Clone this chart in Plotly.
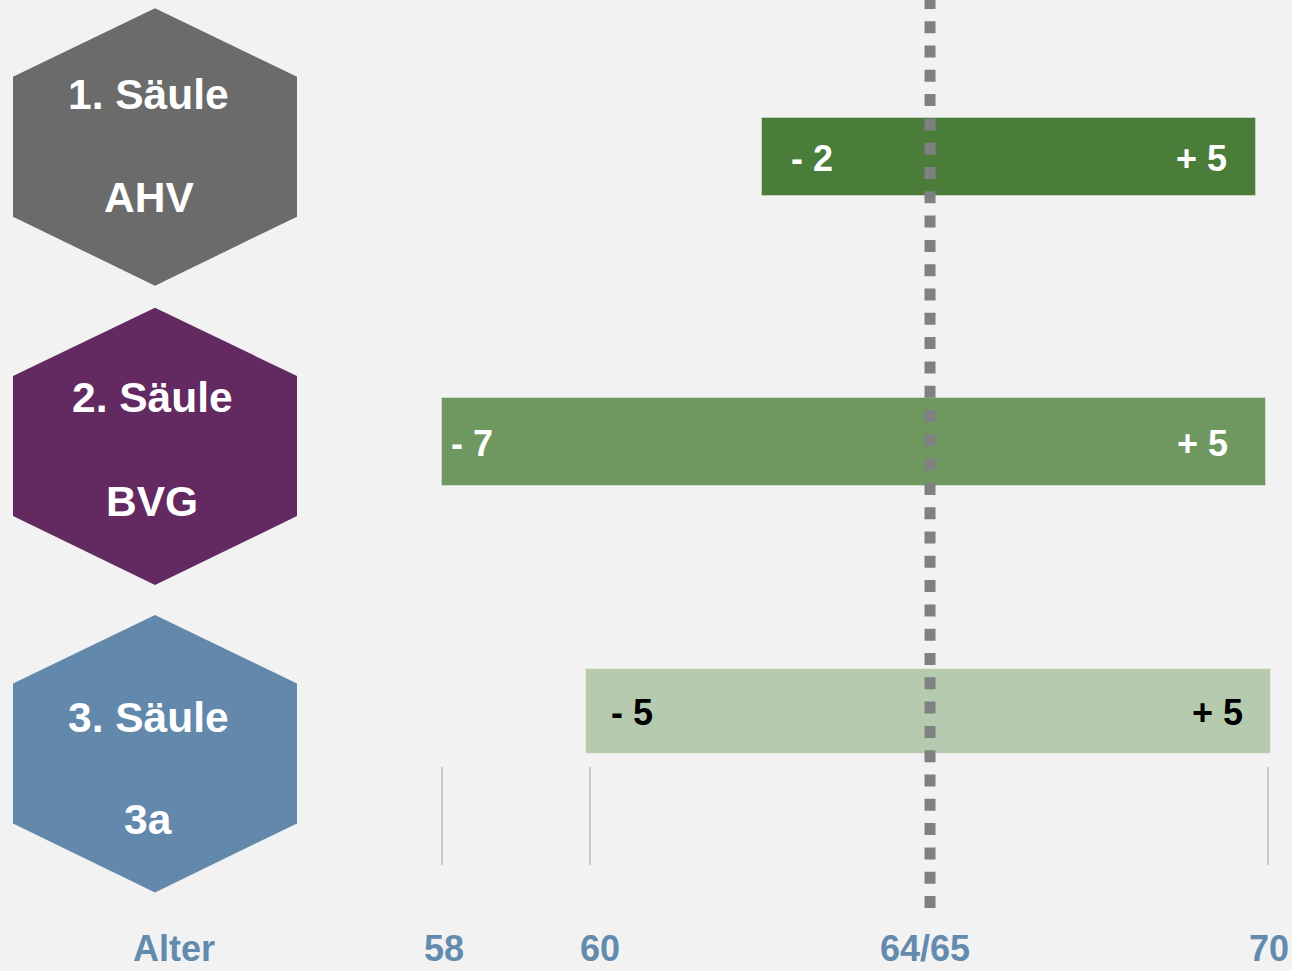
import plotly.graph_objects as go

# ---------------- data ----------------
pillars = ["1. Säule", "2. Säule", "3. Säule"]
pillar_names = ["AHV", "BVG", "3a"]
start_age = [62.65, 58.0, 60.09]      # left end of each bar (age)
end_age = [69.83, 69.97, 70.04]       # right end of each bar (age)
left_labels = ["- 2", "- 7", "- 5"]
right_labels = ["+ 5", "+ 5", "+ 5"]
reference_age = 65.09                  # dotted line "64/65"
tick_line_ages = [58, 60.15, 70]
axis_label_ages = [58.03, 60.29, 65.02, 70.02]
axis_labels = ["58", "60", "64/65", "70"]

# ---------------- layout / style config ----------------
W, H = 1292, 971
px_per_year = (1268 - 442) / 12.0
x_lo = 58 - 442 / px_per_year
x_hi = 70 + (W - 1268) / px_per_year

row_y = [157.0, 441.9, 711.3]
row_h = [78.6, 87.7, 84.7]
bar_colors = ["#4A7D3A", "#6E9860", "#B5CAAE"]
label_colors = ["white", "white", "black"]
left_shift = [27, 7, 23]
right_shift = [-27, -36, -26]

hex_tops = [8.3, 307.7, 615.0]
hex_colors = ["#6B6B6B", "#632A61", "#6289AB"]
hex_cx, hex_half_w = 155.0, 142.0
hex_side_top, hex_side_bot, hex_h = 68.4, 208.4, 277.4
hex_text_x = [148.5, 152.0, 148.0]
hex_line1_y = [94.5, 397.0, 717.0]
hex_line2_y = [197.5, 501.0, 819.0]

FONT = "Liberation Sans, Arial, sans-serif"
AXIS_COLOR = "#628BAE"
BG = "#F2F2F2"
AXIS_LABEL_Y = 948

fig = go.Figure()

# hexagons (pixel-space axis x2)
for i, top in enumerate(hex_tops):
    xs = [hex_cx, hex_cx + hex_half_w, hex_cx + hex_half_w, hex_cx,
          hex_cx - hex_half_w, hex_cx - hex_half_w, hex_cx]
    ys = [top, top + hex_side_top, top + hex_side_bot, top + hex_h,
          top + hex_side_bot, top + hex_side_top, top]
    fig.add_trace(go.Scatter(x=xs, y=ys, xaxis="x2", yaxis="y", mode="lines",
                             fill="toself", fillcolor=hex_colors[i],
                             line=dict(width=0, color=hex_colors[i]),
                             hoverinfo="skip", showlegend=False))

# bars
fig.add_trace(go.Bar(
    y=row_y,
    x=[e - s for s, e in zip(start_age, end_age)],
    base=start_age,
    width=row_h,
    orientation="h",
    marker=dict(color=bar_colors, line=dict(width=1, color="rgba(255,255,255,0.35)")),
    hoverinfo="skip",
    showlegend=False,
))

annotations = []
# hexagon texts
for i in range(3):
    for txt, yy in ((pillars[i], hex_line1_y[i]), (pillar_names[i], hex_line2_y[i])):
        annotations.append(dict(x=hex_text_x[i], y=yy, xref="x2", yref="y",
                                text=txt, showarrow=False, xanchor="center",
                                yanchor="middle",
                                font=dict(family=FONT, size=42.5, color="white",
                                          weight="bold")))
# bar labels
for i in range(3):
    annotations.append(dict(x=start_age[i], y=row_y[i] + 1.5, xref="x", yref="y",
                            text=left_labels[i], showarrow=False, xanchor="left",
                            yanchor="middle", xshift=left_shift[i],
                            font=dict(family=FONT, size=36, color=label_colors[i],
                                      weight="bold")))
    annotations.append(dict(x=end_age[i], y=row_y[i] + 1.5, xref="x", yref="y",
                            text=right_labels[i], showarrow=False, xanchor="right",
                            yanchor="middle", xshift=right_shift[i],
                            font=dict(family=FONT, size=36, color=label_colors[i],
                                      weight="bold")))
# axis labels
annotations.append(dict(x=174, y=AXIS_LABEL_Y, xref="x2", yref="y", text="Alter",
                        showarrow=False, xanchor="center", yanchor="middle",
                        font=dict(family=FONT, size=36, color=AXIS_COLOR, weight="bold")))
for a, t in zip(axis_label_ages, axis_labels):
    annotations.append(dict(x=a, y=AXIS_LABEL_Y, xref="x", yref="y", text=t,
                            showarrow=False, xanchor="center", yanchor="middle",
                            font=dict(family=FONT, size=36, color=AXIS_COLOR,
                                      weight="bold")))

shapes = []
for a in tick_line_ages:
    shapes.append(dict(type="line", xref="x", yref="y", x0=a, x1=a, y0=767, y1=865,
                       line=dict(color="#BBBBBB", width=1.5)))
shapes.append(dict(type="line", xref="x", yref="y", x0=reference_age, x1=reference_age,
                   y0=908, y1=-20, line=dict(color="#808080", width=11,
                                             dash="12px,12.3px")))

fig.update_layout(
    width=W, height=H,
    margin=dict(l=0, r=0, t=0, b=0),
    paper_bgcolor=BG, plot_bgcolor=BG,
    xaxis=dict(range=[x_lo, x_hi], visible=False, fixedrange=True),
    xaxis2=dict(range=[0, W], visible=False, overlaying="x", fixedrange=True),
    yaxis=dict(range=[H, 0], visible=False, fixedrange=True),
    annotations=annotations,
    shapes=shapes,
    showlegend=False,
    bargap=0,
)

fig.write_html("out.html")
